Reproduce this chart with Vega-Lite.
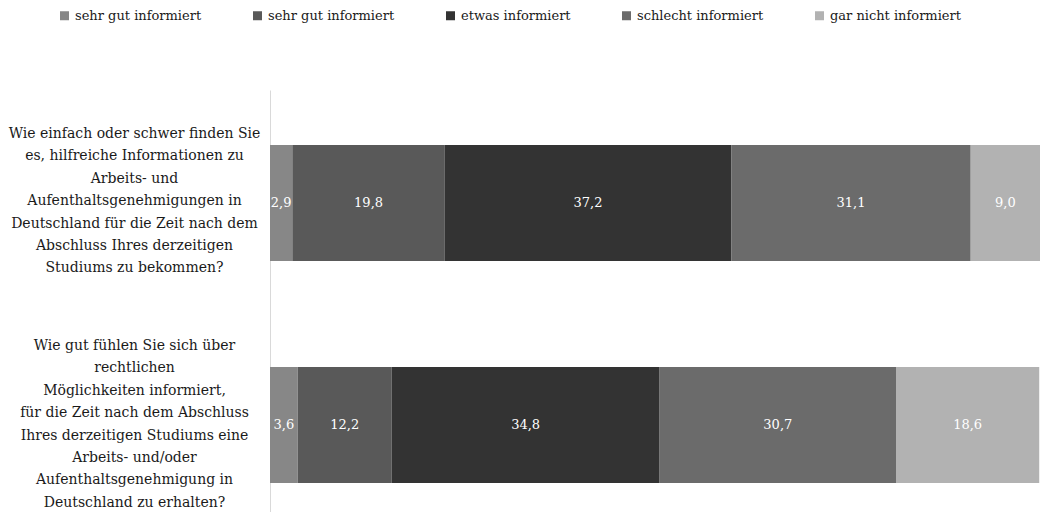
{
  "$schema": "https://vega.github.io/schema/vega-lite/v6.json",
  "autosize": "none",
  "width": 770,
  "height": 448,
  "padding": {"left": 270, "top": 90, "right": 2, "bottom": 0},
  "background": "white",
  "config": {
    "view": {"stroke": null},
    "font": "DejaVu Serif",
    "locale": {"number": {"decimal": ",", "thousands": ".", "grouping": [3], "currency": ["", " €"]}}
  },
  "data": {
    "values": [
      {"frage": "Wie einfach oder schwer finden Sie|es, hilfreiche Informationen zu|Arbeits- und|Aufenthaltsgenehmigungen in|Deutschland für die Zeit nach dem|Abschluss Ihres derzeitigen|Studiums zu bekommen?", "antwort": "1 sehr gut informiert", "wert": 2.9},
      {"frage": "Wie einfach oder schwer finden Sie|es, hilfreiche Informationen zu|Arbeits- und|Aufenthaltsgenehmigungen in|Deutschland für die Zeit nach dem|Abschluss Ihres derzeitigen|Studiums zu bekommen?", "antwort": "2 sehr gut informiert", "wert": 19.8},
      {"frage": "Wie einfach oder schwer finden Sie|es, hilfreiche Informationen zu|Arbeits- und|Aufenthaltsgenehmigungen in|Deutschland für die Zeit nach dem|Abschluss Ihres derzeitigen|Studiums zu bekommen?", "antwort": "3 etwas informiert", "wert": 37.2},
      {"frage": "Wie einfach oder schwer finden Sie|es, hilfreiche Informationen zu|Arbeits- und|Aufenthaltsgenehmigungen in|Deutschland für die Zeit nach dem|Abschluss Ihres derzeitigen|Studiums zu bekommen?", "antwort": "4 schlecht informiert", "wert": 31.1},
      {"frage": "Wie einfach oder schwer finden Sie|es, hilfreiche Informationen zu|Arbeits- und|Aufenthaltsgenehmigungen in|Deutschland für die Zeit nach dem|Abschluss Ihres derzeitigen|Studiums zu bekommen?", "antwort": "5 gar nicht informiert", "wert": 9.0},
      {"frage": "Wie gut fühlen Sie sich über|rechtlichen|Möglichkeiten informiert,|für die Zeit nach dem Abschluss|Ihres derzeitigen Studiums eine|Arbeits- und/oder|Aufenthaltsgenehmigung in|Deutschland zu erhalten?", "antwort": "1 sehr gut informiert", "wert": 3.6},
      {"frage": "Wie gut fühlen Sie sich über|rechtlichen|Möglichkeiten informiert,|für die Zeit nach dem Abschluss|Ihres derzeitigen Studiums eine|Arbeits- und/oder|Aufenthaltsgenehmigung in|Deutschland zu erhalten?", "antwort": "2 sehr gut informiert", "wert": 12.2},
      {"frage": "Wie gut fühlen Sie sich über|rechtlichen|Möglichkeiten informiert,|für die Zeit nach dem Abschluss|Ihres derzeitigen Studiums eine|Arbeits- und/oder|Aufenthaltsgenehmigung in|Deutschland zu erhalten?", "antwort": "3 etwas informiert", "wert": 34.8},
      {"frage": "Wie gut fühlen Sie sich über|rechtlichen|Möglichkeiten informiert,|für die Zeit nach dem Abschluss|Ihres derzeitigen Studiums eine|Arbeits- und/oder|Aufenthaltsgenehmigung in|Deutschland zu erhalten?", "antwort": "4 schlecht informiert", "wert": 30.7},
      {"frage": "Wie gut fühlen Sie sich über|rechtlichen|Möglichkeiten informiert,|für die Zeit nach dem Abschluss|Ihres derzeitigen Studiums eine|Arbeits- und/oder|Aufenthaltsgenehmigung in|Deutschland zu erhalten?", "antwort": "5 gar nicht informiert", "wert": 18.6}
    ]
  },
  "transform": [
    {"stack": "wert", "groupby": ["frage"], "sort": [{"field": "antwort", "order": "ascending"}], "as": ["x0", "x1"]},
    {"calculate": "(datum.x0 + datum.x1) / 2", "as": "xmid"}
  ],
  "encoding": {
    "y": {
      "field": "frage",
      "type": "nominal",
      "sort": null,
      "scale": {"paddingInner": 0.477, "paddingOuter": 0.248},
      "axis": {
        "title": null,
        "ticks": false,
        "labelExpr": "split(datum.label, '|')",
        "labelAlign": "center",
        "labelBaseline": "middle",
        "labelOffset": {"condition": {"test": "indexof(datum.label, 'Wie gut') == 0", "value": -79}, "value": -69},
        "labelPadding": 136,
        "labelFont": "DejaVu Serif",
        "labelFontSize": 14,
        "labelLineHeight": 22.4,
        "labelColor": "#1a1a1a",
        "labelLimit": 0,
        "domainColor": "#d9d9d9",
        "domainWidth": 1
      }
    }
  },
  "layer": [
    {
      "mark": {"type": "bar"},
      "encoding": {
        "x": {"field": "x0", "type": "quantitative", "scale": {"domain": [0, 100], "nice": false}, "axis": null},
        "x2": {"field": "x1"},
        "color": {
          "field": "antwort",
          "type": "nominal",
          "scale": {
            "domain": ["1 sehr gut informiert", "2 sehr gut informiert", "3 etwas informiert", "4 schlecht informiert", "5 gar nicht informiert"],
            "range": ["#878787", "#595959", "#333333", "#6b6b6b", "#b2b2b2"]
          },
          "legend": {
            "title": null,
            "orient": "none",
            "direction": "horizontal",
            "legendX": -212,
            "legendY": -81,
            "symbolType": "square",
            "symbolSize": 81,
            "symbolStrokeWidth": 0,
            "labelExpr": "slice(datum.label, 2)",
            "labelFont": "DejaVu Serif",
            "labelFontSize": 13,
            "labelColor": "#1a1a1a",
            "labelOffset": 4,
            "columnPadding": 49,
            "labelLimit": 0
          }
        }
      }
    },
    {
      "mark": {"type": "text", "color": "white", "font": "DejaVu Serif", "fontSize": 13, "baseline": "middle", "align": "center"},
      "encoding": {
        "x": {"field": "xmid", "type": "quantitative"},
        "text": {"field": "wert", "type": "quantitative", "format": ".1f"}
      }
    }
  ]
}
